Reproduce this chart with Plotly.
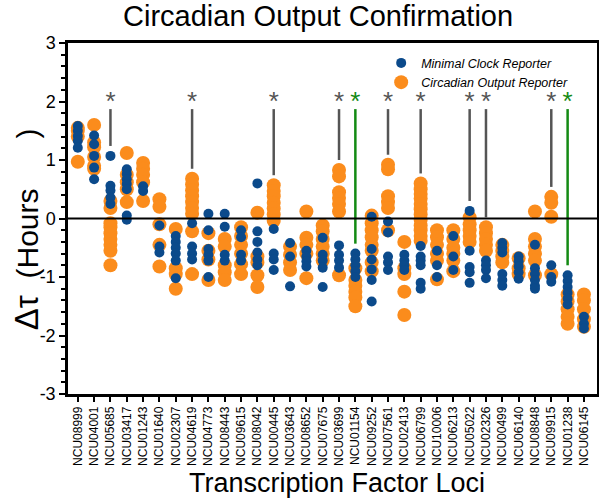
import plotly.graph_objects as go

categories = ["NCU08999", "NCU04001", "NCU05685", "NCU03417", "NCU01243", "NCU01640",
              "NCU02307", "NCU04619", "NCU04773", "NCU08443", "NCU09615", "NCU08042",
              "NCU00445", "NCU03643", "NCU08652", "NCU07675", "NCU03699", "NCU01154",
              "NCU09252", "NCU07561", "NCU02413", "NCU06799", "NCU10006", "NCU06213",
              "NCU05022", "NCU02326", "NCU00499", "NCU06140", "NCU08848", "NCU09915",
              "NCU01238", "NCU06145"]

minimal_clock = [
    [1.58, 1.50, 1.41, 1.33, 1.21],
    [1.42, 1.27, 1.07, 0.87, 0.67],
    [1.07, 0.56, 0.48, 0.36, 0.25],
    [0.84, 0.76, 0.67, 0.59, 0.50, 0.05, -0.02],
    [0.55, 0.47],
    [-0.12, -0.48, -0.58],
    [-0.30, -0.40, -0.50, -0.60, -0.72, -1.02],
    [-0.08, -0.48, -0.60, -0.70],
    [0.08, -0.20, -0.52, -0.62, -0.72, -1.00],
    [0.08, -0.14, -0.62, -0.72],
    [-0.20, -0.32, -0.62, -0.72],
    [0.60, -0.22, -0.40, -0.58, -0.70, -0.80],
    [-0.18, -0.60, -0.70, -0.88],
    [-0.42, -0.65, -1.16],
    [-0.55, -0.65, -0.73, -0.82],
    [-0.33, -0.62, -0.72, -0.84, -1.17],
    [-0.46, -0.62, -0.72, -0.84],
    [-0.60, -0.70, -0.80, -0.90, -1.00],
    [0.03, -0.52, -0.70, -0.87, -1.05, -1.42],
    [-0.05, -0.24, -0.65, -0.75, -0.88],
    [-0.62, -0.72, -0.80, -0.88],
    [-0.47, -0.65, -0.72, -0.80, -1.10, -1.20],
    [-0.55, -0.80, -1.00],
    [-0.30, -0.65, -0.88],
    [0.13, -0.55, -0.83, -0.92, -1.10],
    [-0.72, -0.80, -0.88, -1.02],
    [-0.42, -0.50, -0.58, -0.95, -1.05, -1.15],
    [-0.65, -0.73, -0.82, -0.92, -1.03],
    [-0.45, -0.85, -0.95, -1.05, -1.15, -1.20],
    [-0.80, -1.00, -1.08],
    [-0.97, -1.07, -1.17, -1.27, -1.37, -1.47],
    [-1.68, -1.80, -1.88],
]

circadian_output = [
    [1.55, 1.50, 1.40, 0.97],
    [1.60, 1.30, 1.22, 1.05, 0.90, 0.85],
    [0.30, 0.18, -0.08, -0.15, -0.25, -0.35, -0.45, -0.55, -0.80],
    [1.12, 0.75, 0.62, 0.50, 0.28],
    [0.95, 0.85, 0.75, 0.62, 0.30],
    [0.33, 0.20, -0.10, -0.45, -0.82],
    [-0.18, -0.85, -0.95, -1.20],
    [0.68, 0.58, 0.48, 0.38, 0.28, 0.18, 0.08, -0.22, -0.95],
    [-0.25, -0.55, -0.70, -1.05],
    [-0.35, -0.48, -0.80, -0.92, -1.05],
    [-0.15, -0.30, -0.45, -0.60, -0.78, -0.95],
    [0.10, -0.65, -0.75, -0.97, -1.17],
    [0.57, 0.47, 0.38, 0.27, 0.17, 0.07, -0.04],
    [-0.48, -0.62, -0.75, -0.88],
    [0.12, -0.33, -0.45, -0.60, -1.02],
    [-0.12, -0.22, -0.35, -0.48, -0.60, -0.72],
    [0.83, 0.72, 0.45, 0.35, 0.25, 0.12, -0.97],
    [-0.85, -1.05, -1.15, -1.25, -1.35, -1.50],
    [0.05, -0.08, -0.20, -0.32, -0.45, -0.55, -0.75, -0.90],
    [0.92, 0.84, 0.38, 0.28, 0.18, -0.20],
    [-0.40, -0.85, -0.95, -1.25, -1.65],
    [0.60, 0.50, 0.42, 0.34, 0.25, 0.16, 0.07, -0.02, -0.12, -0.20, -0.30, -0.38],
    [-0.20, -0.32, -0.45, -0.60, -0.72, -1.04],
    [-0.20, -0.35, -0.50, -0.60, -0.72, -0.90],
    [0.02, -0.10, -0.20, -0.30, -0.40],
    [-0.15, -0.25, -0.35, -0.45, -0.55],
    [-0.45, -0.55, -0.65, -0.75],
    [-0.68, -0.85, -0.95],
    [0.12, -0.35, -0.48, -0.60, -0.72, -0.97],
    [0.37, 0.27, 0.03, -0.95],
    [-1.30, -1.42, -1.55, -1.68, -1.80],
    [-1.30, -1.40, -1.55, -1.72, -1.85],
]

significant_gray = ["NCU05685", "NCU04619", "NCU00445", "NCU03699", "NCU07561",
                    "NCU06799", "NCU05022", "NCU02326", "NCU09915"]
significant_green = ["NCU01154", "NCU01238"]

y_tick_values = [-3, -2, -1, 0, 1, 2, 3]
y_tick_labels = ["-3", "-2", "-1", "0", "1", "2", "3"]

BLUE = "#0b4a8b"
ORANGE = "#fb8c1c"
GRAY = "#555555"
GREEN = "#138a13"
FONT = "Arial, Liberation Sans, sans-serif"

def flatten(groups):
    xs, ys = [], []
    for cat, vals in zip(categories, groups):
        for v in vals:
            xs.append(cat)
            ys.append(v)
    return xs, ys

fig = go.Figure()

ox, oy = flatten(circadian_output)
bx, by = flatten(minimal_clock)

fig.add_trace(go.Scatter(x=ox, y=oy, mode="markers", name="<i>Circadian Output Reporter</i>",
                         marker=dict(color=ORANGE, size=14, line=dict(width=0)),
                         legendrank=2))
fig.add_trace(go.Scatter(x=bx, y=by, mode="markers", name="<i>Minimal Clock Reporter</i>",
                         marker=dict(color=BLUE, size=10, line=dict(width=0)),
                         legendrank=1))

# significance bars
for names, col in ((significant_gray, GRAY), (significant_green, GREEN)):
    for cat in names:
        i = categories.index(cat)
        top = max(max(minimal_clock[i]), max(circadian_output[i]))
        fig.add_trace(go.Scatter(x=[cat, cat], y=[top + 0.17, 1.87], mode="lines",
                                 line=dict(color=col, width=2.5), showlegend=False,
                                 hoverinfo="skip"))
        fig.add_trace(go.Scatter(x=[cat], y=[1.97], mode="text", text=["*"],
                                 textposition="middle center",
                                 textfont=dict(color=col, size=26, family=FONT),
                                 showlegend=False, hoverinfo="skip"))

fig.add_shape(type="line", xref="paper", x0=0, x1=1, yref="y", y0=0, y1=0,
              line=dict(color="black", width=2), layer="above")

NB = "\u00a0"
fig.add_annotation(text="<span style='font-size:33px'>Δτ</span>" + NB * 2 + "(Hours" + NB * 6 + ")",
                   textangle=-90,
                   xref="paper", yref="paper", x=-0.079, y=0.47,
                   xanchor="center", yanchor="middle", showarrow=False,
                   font=dict(size=30, family=FONT, color="black"))
fig.add_annotation(text="Transcription Factor Loci",
                   xref="paper", yref="paper", x=(337 - 68) / 529, y=-(483 - 394) / 351,
                   xanchor="center", yanchor="middle", showarrow=False,
                   font=dict(size=27, family=FONT, color="black"))

fig.update_layout(
    width=599, height=500,
    margin=dict(l=68, r=2, t=43, b=106, autoexpand=False),
    paper_bgcolor="white", plot_bgcolor="white",
    font=dict(family=FONT, color="black"),
    title=dict(text="Circadian Output Confirmation", x=0.531, xanchor="center",
               xref="container", yref="container",
               y=0.968, yanchor="middle", font=dict(size=29, family=FONT)),
    showlegend=True,
    legend=dict(x=0.592, y=0.985, xanchor="left", yanchor="top",
                bgcolor="rgba(0,0,0,0)", font=dict(size=12.5, family=FONT),
                itemsizing="trace", tracegroupgap=0),
)

fig.update_xaxes(
    type="category", categoryorder="array", categoryarray=categories,
    range=[-0.6, 31.8], tickangle=-90, tickfont=dict(size=12, family=FONT),
    showline=True, linecolor="black", linewidth=2.5, mirror=True,
    ticks="outside", ticklen=5, tickwidth=1.5, tickcolor="black",
    showgrid=False, zeroline=False, automargin=False,
)
fig.update_yaxes(
    range=[-3, 3], tickmode="array", tickvals=y_tick_values, ticktext=y_tick_labels,
    tickfont=dict(size=18, family=FONT),
    showline=True, linecolor="black", linewidth=2.5, mirror=True,
    ticks="outside", ticklen=6, tickwidth=2, tickcolor="black",
    minor=dict(dtick=0.2, tick0=0, ticks="outside", ticklen=4, tickwidth=1.5, tickcolor="black"),
    showgrid=False, zeroline=False, automargin=False,
)

fig.write_html("out.html", config={"displayModeBar": False},
               post_script="document.body.style.margin='0';document.body.style.overflow='hidden';")
